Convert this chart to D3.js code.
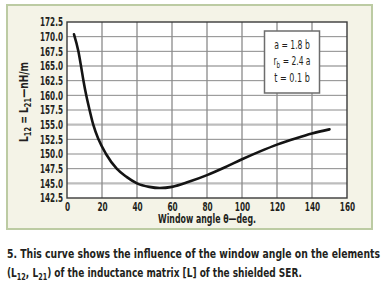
<!DOCTYPE html>
<html>
<head>
<meta charset="utf-8">
<script src="https://cdn.jsdelivr.net/npm/d3@7"></script>
<style>
  body { margin: 0; background: #fff; }
  svg text { font-family: "Liberation Sans Narrow", "DejaVu Sans Condensed", sans-serif; font-weight: bold; fill: #231f20; }
</style>
</head>
<body>
<div id="chart"></div>
<script>
// window angle (deg) and L12 = L21 (nH/m)
var theta = [4, 6.5, 8, 9.4, 11, 12.9, 15, 18, 22.3, 28.4, 34, 40, 47, 53, 60, 70, 80, 90, 100, 110, 120, 131, 140, 150];
var induct = [170.4, 167.5, 165, 162.5, 160, 157.5, 155, 152.5, 150, 147.5, 146.1, 145.0, 144.4, 144.2, 144.4, 145.3, 146.4, 147.7, 149.1, 150.4, 151.6, 152.7, 153.5, 154.2];

var xTicks = [0, 20, 40, 60, 80, 100, 120, 140, 160];
var yTicks = [142.5, 145, 147.5, 150, 152.5, 155, 157.5, 160, 162.5, 165, 167.5, 170, 172.5];
var majorY = [145, 155, 165];
var notes = [["a = 1.8 b"], ["r", "b", " = 2.4 a"], ["t = 0.1 b"]];

var width = 387, height = 287;
var plot = {left: 67, right: 347, top: 22, bottom: 198};

var svg = d3.select("#chart")
  .append("svg")
  .attr("width", width)
  .attr("height", height);

// narrow bold face: squeeze text to the widths of the printed labels
function fitWidth(s) {
  var digits = s.replace(/[^0-9]/g, "").length;
  var dots = s.length - digits;
  return digits * 5.1 + dots * 2.6;
}

// cream panel
svg.append("rect")
  .attr("x", 7).attr("y", 5)
  .attr("width", 365).attr("height", 224)
  .attr("fill", "#f4f3e7")
  .attr("stroke", "#bccba3")
  .attr("stroke-width", 2);

var x = d3.scaleLinear().domain([0, 160]).range([plot.left, plot.right]);
var y = d3.scaleLinear().domain([142.5, 172.5]).range([plot.bottom, plot.top]);

svg.append("rect")
  .attr("x", plot.left).attr("y", plot.top)
  .attr("width", plot.right - plot.left).attr("height", plot.bottom - plot.top)
  .attr("fill", "#fff");

// horizontal grid
svg.append("g")
  .selectAll("line")
  .data(yTicks.slice(1, -1))
  .enter()
  .append("line")
  .attr("x1", plot.left).attr("x2", plot.right)
  .attr("y1", d => y(d)).attr("y2", d => y(d))
  .attr("stroke", d => majorY.indexOf(d) >= 0 ? "#bdbdbd" : "#8a8a8a")
  .attr("stroke-width", d => majorY.indexOf(d) >= 0 ? 2.2 : 1);

// vertical grid
svg.append("g")
  .selectAll("line")
  .data(xTicks.slice(1, -1))
  .enter()
  .append("line")
  .attr("x1", d => x(d)).attr("x2", d => x(d))
  .attr("y1", plot.top).attr("y2", plot.bottom)
  .attr("stroke", "#8a8a8a")
  .attr("stroke-width", 1.3);

// frame
svg.append("rect")
  .attr("x", plot.left).attr("y", plot.top)
  .attr("width", plot.right - plot.left).attr("height", plot.bottom - plot.top)
  .attr("fill", "none")
  .attr("stroke", "#3a3a3a")
  .attr("stroke-width", 1.4);

// tick labels via d3 axes, no domain/tick lines
var xAxis = svg.append("g")
  .attr("transform", "translate(0," + plot.bottom + ")")
  .call(d3.axisBottom(x).tickValues(xTicks).tickSize(0).tickPadding(3));
var yAxis = svg.append("g")
  .attr("transform", "translate(" + plot.left + ",0)")
  .call(d3.axisLeft(y).tickValues(yTicks).tickFormat(d3.format(".1f")).tickSize(0).tickPadding(4));

[xAxis, yAxis].forEach(function (g) {
  g.select(".domain").remove();
  g.selectAll("text")
    .attr("font-family", null)
    .style("font-size", "11.8px")
    .attr("fill", "#231f20")
    .attr("lengthAdjust", "spacingAndGlyphs")
    .attr("textLength", function () { return fitWidth(this.textContent); });
});
xAxis.selectAll("text").attr("dy", "0.85em");

// curve
var line = d3.line()
  .x((d, i) => x(theta[i]))
  .y(d => y(d))
  .curve(d3.curveMonotoneX);

svg.append("path")
  .datum(induct)
  .attr("d", line)
  .attr("fill", "none")
  .attr("stroke", "#141414")
  .attr("stroke-width", 2.6)
  .attr("stroke-linecap", "round");

// parameter box
svg.append("rect")
  .attr("x", 264.5).attr("y", 31)
  .attr("width", 55).attr("height", 62)
  .attr("fill", "#fff")
  .attr("stroke", "#6d6d6d")
  .attr("stroke-width", 1.5);

var noteText = svg.append("g")
  .selectAll("text")
  .data(notes)
  .enter()
  .append("text")
  .attr("x", 292)
  .attr("y", (d, i) => 48.5 + i * 16.5)
  .attr("text-anchor", "middle")
  .attr("textLength", (d, i) => i === 1 ? 37 : 35.5)
  .attr("lengthAdjust", "spacingAndGlyphs")
  .style("font-size", "12px")
  .style("font-weight", "normal");

noteText.each(function (d) {
  var t = d3.select(this);
  if (d.length === 1) { t.text(d[0]); return; }
  t.append("tspan").text(d[0]);
  t.append("tspan").attr("dy", 3).style("font-size", "9px").text(d[1]);
  t.append("tspan").attr("dy", -3).text(d[2]);
});

// axis titles
svg.append("text")
  .attr("x", (plot.left + plot.right) / 2)
  .attr("y", 223)
  .attr("text-anchor", "middle")
  .attr("textLength", 98)
  .attr("lengthAdjust", "spacingAndGlyphs")
  .style("font-size", "11.5px")
  .text("Window angle \u03b8\u2014deg.");

var yTitle = svg.append("text")
  .attr("transform", "translate(28,102) rotate(-90)")
  .attr("text-anchor", "middle")
  .attr("textLength", 80)
  .attr("lengthAdjust", "spacingAndGlyphs")
  .style("font-size", "11.5px");
yTitle.append("tspan").text("L");
yTitle.append("tspan").attr("dy", 3).style("font-size", "8.5px").text("12");
yTitle.append("tspan").attr("dy", -3).text(" = L");
yTitle.append("tspan").attr("dy", 3).style("font-size", "8.5px").text("21");
yTitle.append("tspan").attr("dy", -3).text("\u2014nH/m");

// caption
svg.append("text")
  .attr("x", 7).attr("y", 257.5)
  .attr("textLength", 373)
  .attr("lengthAdjust", "spacingAndGlyphs")
  .style("font-size", "12.5px")
  .text("5. This curve shows the influence of the window angle on the elements");

var cap2 = svg.append("text")
  .attr("x", 7).attr("y", 277)
  .attr("textLength", 295)
  .attr("lengthAdjust", "spacingAndGlyphs")
  .style("font-size", "12.5px");
cap2.append("tspan").text("(L");
cap2.append("tspan").attr("dy", 3).style("font-size", "9px").text("12");
cap2.append("tspan").attr("dy", -3).text(", L");
cap2.append("tspan").attr("dy", 3).style("font-size", "9px").text("21");
cap2.append("tspan").attr("dy", -3).text(") of the inductance matrix [L] of the shielded SER.");
</script>
</body>
</html>
